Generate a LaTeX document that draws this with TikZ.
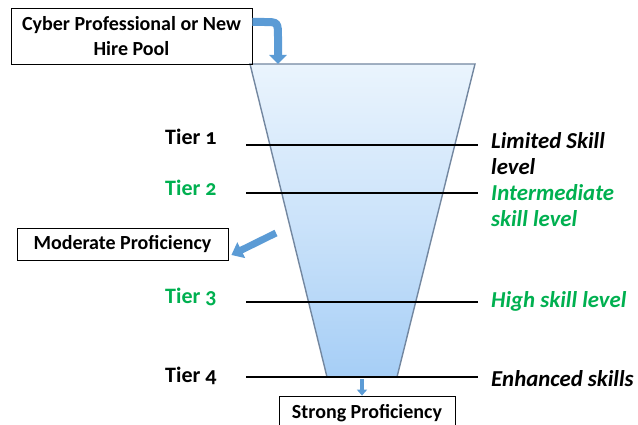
\documentclass[tikz,border=0pt]{standalone}
\usepackage{fontspec}
\setmainfont{Carlito}[Numbers=OldStyle]
\usetikzlibrary{arrows.meta}

\definecolor{flowblue}{RGB}{91,155,213}
\definecolor{tiergreen}{RGB}{0,176,80}
\definecolor{fnltop}{RGB}{234,244,253}
\definecolor{fnlbot}{RGB}{166,206,246}
\definecolor{fnledge}{RGB}{115,135,160}

\tikzset{
  pool/.style={draw, line width=0.8pt, inner sep=0pt, align=center,
    font=\fontsize{20}{24.4}\selectfont\bfseries},
  tier/.style={anchor=base west, inner sep=0pt,
    font=\fontsize{22}{27}\selectfont\bfseries},
  skill/.style={anchor=base west, inner sep=0pt, align=left,
    font=\fontsize{22.8}{26.5}\selectfont\bfseries\itshape},
  flow/.style={draw=flowblue, line width=#1, line cap=butt}
}

\begin{document}
\begin{tikzpicture}[x=1pt, y=-1pt]
	\path[use as bounding box] (0,0) rectangle (638,425);
	\clip (0,0) rectangle (638,425);

	% the funnel
	\shade[top color=fnltop, bottom color=fnlbot, middle color=fnltop!55!fnlbot,
		draw=fnledge, line width=1.4pt]
		(250,64) -- (475,64) -- (397,377) -- (327,377) -- cycle;

	% tier boundaries
	\foreach \y in {145,193,302,377}
		\draw[line width=1.3pt] (246,\y) -- (478,\y);

	\node[tier] (t1) at (165,145) {Tier 1};
	\node[tier, text=tiergreen] (t2) at (165,196) {Tier 2};
	\node[tier, text=tiergreen] (t3) at (165,303) {Tier 3};
	\node[tier] (t4) at (165,382) {Tier 4};

	% two-line labels sit on their last line
	\node[skill] (s1) at (491,175) {Limited Skill\\level};
	\node[skill, text=tiergreen] (s2) at (491,227) {Intermediate\\skill level};
	\node[skill, text=tiergreen] (s3) at (491,307) {High skill level};
	\node[skill] (s4) at (491,386) {Enhanced skills};

	% entry and exit boxes
	\node[pool, minimum width=241pt, minimum height=56pt] (hire) at (131.5,36)
		{Cyber Professional or New\\Hire Pool};
	\node[pool, minimum width=211pt, minimum height=32pt] (mod) at (122.5,244)
		{Moderate Proficiency};
	\node[pool, minimum width=176pt, minimum height=34pt] (strong) at (367,413)
		{Strong Proficiency};

	\coordinate (top) at (278,64);
	\coordinate (out) at (276,233);
	\coordinate (bot) at (362,379);

	% arrows
	\draw[flow=8pt, -{Triangle[width=17pt,length=9pt]}]
		(hire.east |- 0,22) -- (264,22) .. controls (278,22) .. (278,38) -- (top);
	\draw[flow=7pt, -{Triangle[width=17pt,length=11pt]}]
		(out) -- ([xshift=3pt,yshift=-11pt]mod.east);
	\draw[flow=4pt, -{Triangle[width=10pt,length=6pt]}]
		(bot) -- (strong.north -| bot);
\end{tikzpicture}
\end{document}
